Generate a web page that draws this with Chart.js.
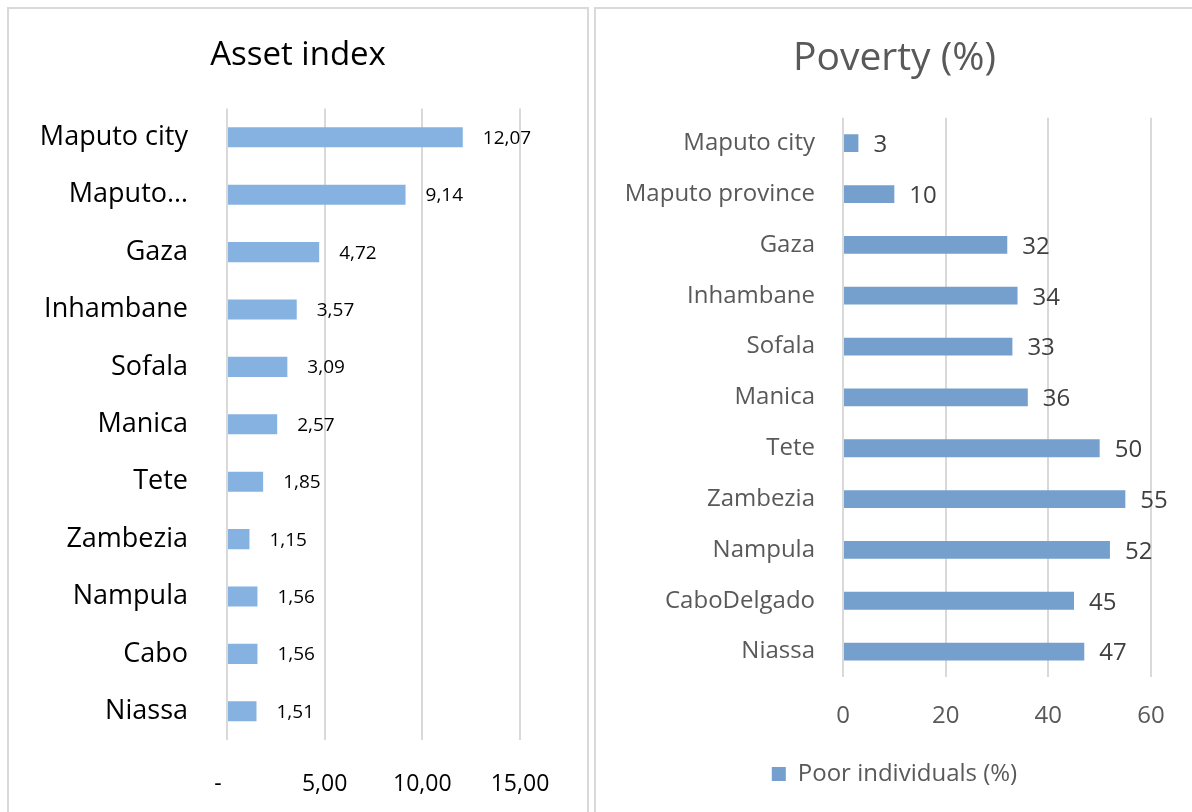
<!DOCTYPE html>
<html>
<head>
<meta charset="utf-8">
<script src="https://cdn.jsdelivr.net/npm/chart.js@4/dist/chart.umd.min.js"></script>
<style>
  html, body { margin: 0; padding: 0; background: #ffffff; overflow: hidden; width: 1192px; height: 812px; }
  .panel { position: absolute; border: 2px solid #d9d9d9; box-sizing: border-box; background: #fff; }
  #p1 { left: 7px; top: 7px; width: 582px; height: 830px; }
  #p2 { left: 594px; top: 7px; width: 620px; height: 830px; }
  canvas { position: absolute; }
  #c1 { left: 10px; top: 10px; }
  #c2 { left: 597px; top: 10px; }
</style>
</head>
<body>
<div class="panel" id="p1"></div>
<div class="panel" id="p2"></div>
<canvas id="c1" width="576" height="802" style="width:576px;height:802px"></canvas>
<canvas id="c2" width="595" height="802" style="width:595px;height:802px"></canvas>
<script>
// ---- Data ----
const assetTitle = 'Asset index';
const assetCategories = ['Maputo city', 'Maputo…', 'Gaza', 'Inhambane', 'Sofala', 'Manica', 'Tete', 'Zambezia', 'Nampula', 'Cabo', 'Niassa'];
const assetValues = [12.07, 9.14, 4.72, 3.57, 3.09, 2.57, 1.85, 1.15, 1.56, 1.56, 1.51];
const assetTickLabels = ['-   ', '5,00', '10,00', '15,00'];

const povertyTitle = 'Poverty (%)';
const povertyCategories = ['Maputo city', 'Maputo province', 'Gaza', 'Inhambane', 'Sofala', 'Manica', 'Tete', 'Zambezia', 'Nampula', 'CaboDelgado', 'Niassa'];
const povertyValues = [3, 10, 32, 34, 33, 36, 50, 55, 52, 45, 47];
const povertySeriesName = 'Poor individuals (%)';
const povertyTickLabels = ['0', '20', '40', '60'];

const FONT = "'Open Sans', 'Noto Sans', sans-serif";
Chart.defaults.font.family = FONT;

// value label plugin (draws data values at the end of each bar)
const valueLabels = {
  id: 'valueLabels',
  afterDatasetsDraw(chart, args, opts) {
    const ctx = chart.ctx;
    const meta = chart.getDatasetMeta(0);
    const data = chart.data.datasets[0].data;
    ctx.save();
    ctx.font = opts.size + 'px ' + FONT;
    ctx.fillStyle = opts.color;
    ctx.textAlign = 'left';
    ctx.textBaseline = 'middle';
    meta.data.forEach((bar, i) => {
      ctx.fillText(opts.format(data[i]), bar.x + opts.offset, bar.y + opts.dy);
    });
    ctx.restore();
  }
};

function padAxis(width) {
  return {
    type: 'linear', axis: 'y', position: 'right', display: true,
    ticks: { display: false }, grid: { display: false, drawTicks: false },
    border: { display: false },
    afterFit: s => { s.width = width; }
  };
}

// ---- Left chart ----
new Chart(document.getElementById('c1'), {
  type: 'bar',
  data: {
    labels: assetCategories,
    datasets: [{
      label: assetTitle,
      data: assetValues,
      xAxisID: 'x',
      yAxisID: 'y',
      backgroundColor: '#85b2e1',
      borderWidth: 0,
      barPercentage: 0.35,
      categoryPercentage: 1
    }]
  },
  plugins: [valueLabels],
  options: {
    indexAxis: 'y',
    responsive: false,
    animation: false,
    layout: { padding: { left: 0, right: 0, top: 0, bottom: 0 } },
    plugins: {
      legend: { display: false },
      tooltip: { enabled: false },
      title: {
        display: true,
        text: assetTitle,
        color: '#000000',
        font: { size: 33, weight: 'normal', family: FONT, lineHeight: 1.2 },
        padding: { top: 26, bottom: 33 }
      },
      valueLabels: {
        size: 19, color: '#000000', offset: 20, dy: 1,
        format: v => v.toFixed(2).replace('.', ',')
      }
    },
    scales: {
      x: {
        min: 0, max: 15,
        ticks: {
          stepSize: 5,
          color: '#000000',
          font: { size: 23 },
          padding: 31,
          callback: (v, i) => assetTickLabels[i]
        },
        grid: { color: '#d9d9d9', lineWidth: 2, drawTicks: false },
        border: { display: false },
        afterFit: s => { s.height = 72; }
      },
      y: {
        ticks: { color: '#000000', font: { size: 27 }, padding: 39 },
        grid: { display: false, drawTicks: false },
        border: { display: false },
        afterFit: s => { s.width = 217; }
      },
      pad: padAxis(66)
    }
  }
});

// ---- Right chart ----
new Chart(document.getElementById('c2'), {
  type: 'bar',
  data: {
    labels: povertyCategories,
    datasets: [{
      label: povertySeriesName,
      data: povertyValues,
      xAxisID: 'x',
      yAxisID: 'y',
      backgroundColor: '#759fcc',
      borderWidth: 0,
      barPercentage: 0.35,
      categoryPercentage: 1
    }]
  },
  plugins: [valueLabels],
  options: {
    indexAxis: 'y',
    responsive: false,
    animation: false,
    layout: { padding: { left: 0, right: 0, top: 0, bottom: 16 } },
    plugins: {
      tooltip: { enabled: false },
      title: {
        display: true,
        text: povertyTitle,
        color: '#595959',
        font: { size: 39, weight: 'normal', family: FONT, lineHeight: 1.2 },
        padding: { top: 25, bottom: 36 }
      },
      legend: {
        display: true,
        position: 'bottom',
        labels: {
          color: '#595959',
          font: { size: 24 },
          boxWidth: 14,
          boxHeight: 14,
          padding: 20
        }
      },
      valueLabels: {
        size: 24, color: '#404040', offset: 15, dy: 2,
        format: v => String(v)
      }
    },
    scales: {
      x: {
        min: 0, max: 60,
        ticks: {
          stepSize: 20,
          color: '#595959',
          font: { size: 24 },
          padding: 25,
          callback: (v, i) => povertyTickLabels[i]
        },
        grid: { color: '#d9d9d9', lineWidth: 2, drawTicks: false },
        border: { display: false },
        afterFit: s => { s.height = 65; }
      },
      y: {
        ticks: { color: '#595959', font: { size: 24 }, padding: 28 },
        grid: { display: false, drawTicks: false },
        border: { display: false },
        afterFit: s => { s.width = 246; }
      },
      pad: padAxis(41)
    }
  }
});
</script>
</body>
</html>
